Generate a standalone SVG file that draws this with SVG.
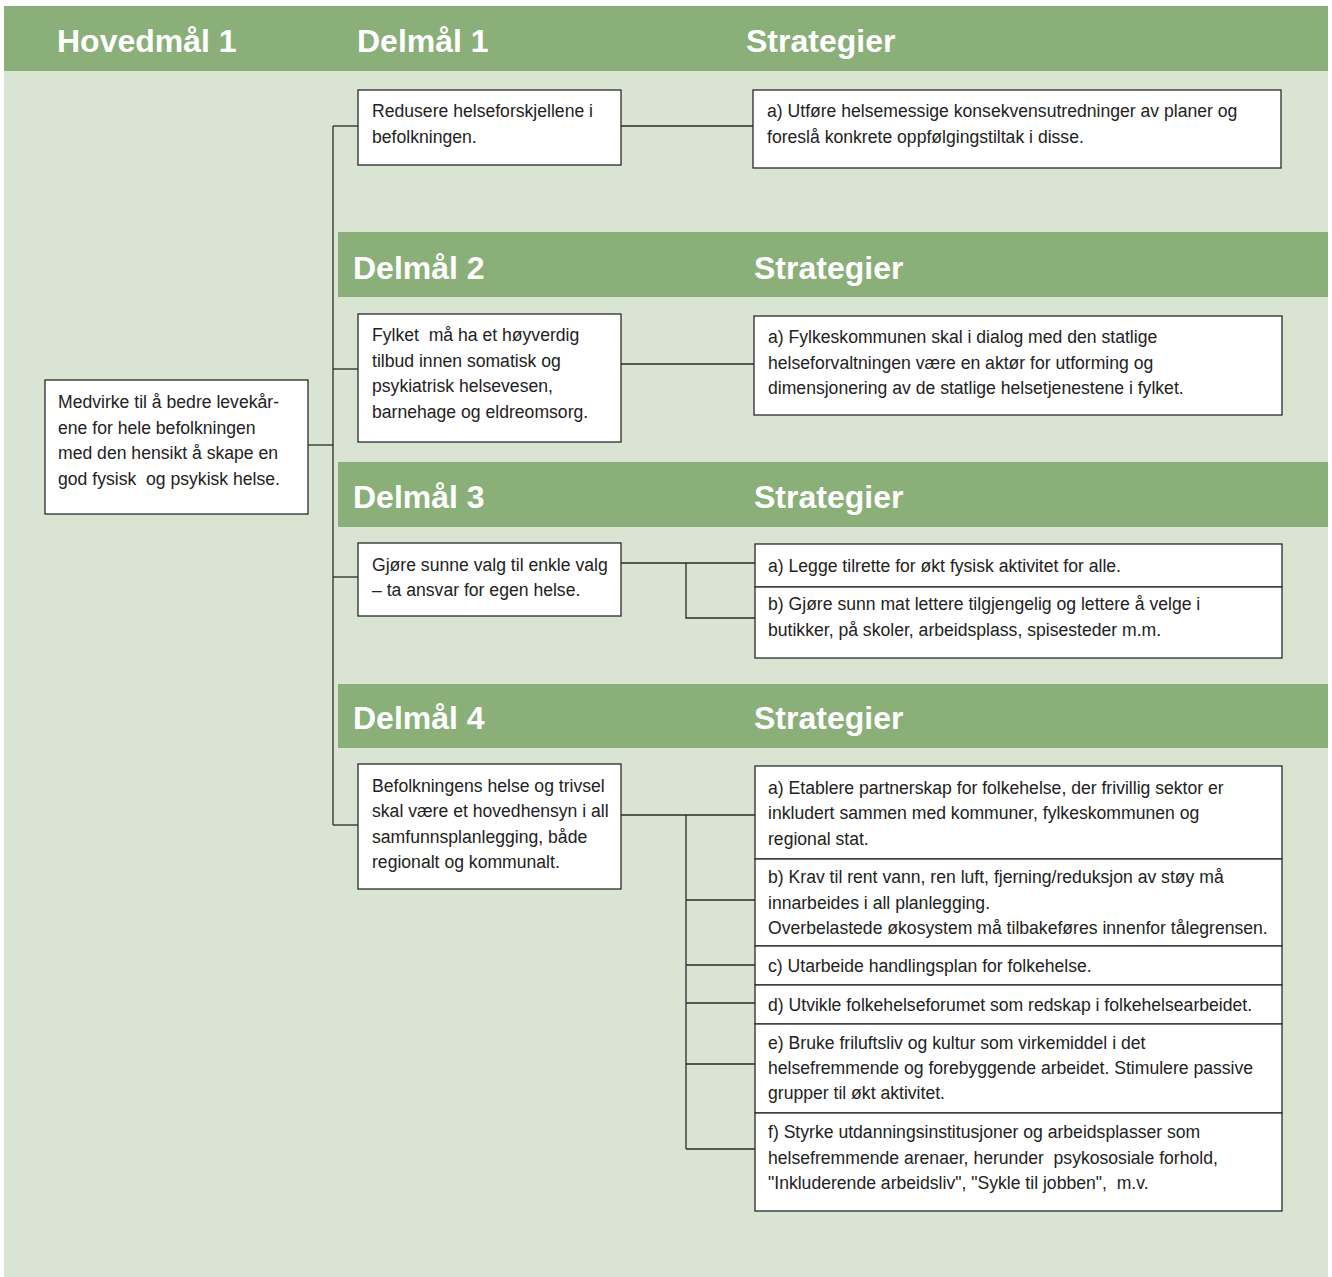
<svg xmlns="http://www.w3.org/2000/svg" width="1332" height="1277" viewBox="0 0 1332 1277" xml:space="preserve">
<style>
.bg{fill:#dae4d3}
.band{fill:#8aaf79}
.hd{font-family:"Liberation Sans",Arial,sans-serif;font-weight:bold;font-size:32px;fill:#ffffff}
.box{fill:#ffffff;stroke:#2a2a2a;stroke-width:1.3}
.t{font-family:"Liberation Sans",Arial,sans-serif;font-size:17.6px;fill:#222222;white-space:pre}
.c{fill:none;stroke:#2a2a2a;stroke-width:1.3}
</style>
<rect width="1332" height="1277" fill="#ffffff"/>
<rect class="bg" x="4" y="6" width="1324" height="1271"/>
<g id="headers">
<rect class="band" x="4" y="6" width="1324" height="65"/>
<text class="hd" x="57" y="52">Hovedmål 1</text>
<text class="hd" x="357" y="52">Delmål 1</text>
<text class="hd" x="746" y="52">Strategier</text>
<rect class="band" x="338" y="232" width="990" height="65"/>
<text class="hd" x="353" y="279">Delmål 2</text>
<text class="hd" x="754" y="279">Strategier</text>
<rect class="band" x="338" y="462" width="990" height="65"/>
<text class="hd" x="353" y="508">Delmål 3</text>
<text class="hd" x="754" y="508">Strategier</text>
<rect class="band" x="338" y="684" width="990" height="64"/>
<text class="hd" x="353" y="729">Delmål 4</text>
<text class="hd" x="754" y="729">Strategier</text>
</g>
<g id="connectors">
<path class="c" d="M333,126 V825"/>
<path class="c" d="M333,126 H358"/>
<path class="c" d="M308,445 H333"/>
<path class="c" d="M333,369 H358"/>
<path class="c" d="M333,577 H358"/>
<path class="c" d="M333,825 H358"/>
<path class="c" d="M621,126 H753"/>
<path class="c" d="M621,364 H754"/>
<path class="c" d="M621,563 H755 M686,563 V618 H755"/>
<path class="c" d="M621,815 H755 M686,815 V1149 M686,900 H755 M686,965 H755 M686,1003 H755 M686,1064 H755 M686,1149 H755"/>
</g>
<g id="hovedmaal">
<rect class="box" x="45" y="380" width="263" height="134"/>
<text class="t" x="58" y="408">Medvirke til å bedre levekår-</text>
<text class="t" x="58" y="434">ene for hele befolkningen</text>
<text class="t" x="58" y="459">med den hensikt å skape en</text>
<text class="t" x="58" y="485">god fysisk  og psykisk helse.</text>
</g>
<g id="delmaal1">
<rect class="box" x="358" y="90" width="263" height="75"/>
<text class="t" x="372" y="117">Redusere helseforskjellene i</text>
<text class="t" x="372" y="143">befolkningen.</text>
</g>
<g id="strategi1a">
<rect class="box" x="753" y="90" width="528" height="78"/>
<text class="t" x="767" y="117">a) Utføre helsemessige konsekvensutredninger av planer og</text>
<text class="t" x="767" y="143">foreslå konkrete oppfølgingstiltak i disse.</text>
</g>
<g id="delmaal2">
<rect class="box" x="358" y="314" width="263" height="128"/>
<text class="t" x="372" y="341">Fylket  må ha et høyverdig</text>
<text class="t" x="372" y="367">tilbud innen somatisk og</text>
<text class="t" x="372" y="392">psykiatrisk helsevesen,</text>
<text class="t" x="372" y="418">barnehage og eldreomsorg.</text>
</g>
<g id="strategi2a">
<rect class="box" x="754" y="316" width="528" height="99"/>
<text class="t" x="768" y="343">a) Fylkeskommunen skal i dialog med den statlige</text>
<text class="t" x="768" y="369">helseforvaltningen være en aktør for utforming og</text>
<text class="t" x="768" y="394">dimensjonering av de statlige helsetjenestene i fylket.</text>
</g>
<g id="delmaal3">
<rect class="box" x="358" y="543" width="263" height="73"/>
<text class="t" x="372" y="571">Gjøre sunne valg til enkle valg</text>
<text class="t" x="372" y="596">– ta ansvar for egen helse.</text>
</g>
<g id="strategi3a">
<rect class="box" x="755" y="544" width="527" height="43"/>
<text class="t" x="768" y="572">a) Legge tilrette for økt fysisk aktivitet for alle.</text>
</g>
<g id="strategi3b">
<rect class="box" x="755" y="587" width="527" height="71"/>
<text class="t" x="768" y="610">b) Gjøre sunn mat lettere tilgjengelig og lettere å velge i</text>
<text class="t" x="768" y="636">butikker, på skoler, arbeidsplass, spisesteder m.m.</text>
</g>
<g id="delmaal4">
<rect class="box" x="358" y="764" width="263" height="125"/>
<text class="t" x="372" y="792">Befolkningens helse og trivsel</text>
<text class="t" x="372" y="817">skal være et hovedhensyn i all</text>
<text class="t" x="372" y="843">samfunnsplanlegging, både</text>
<text class="t" x="372" y="868">regionalt og kommunalt.</text>
</g>
<g id="strategi4a">
<rect class="box" x="755" y="766" width="527" height="93"/>
<text class="t" x="768" y="794">a) Etablere partnerskap for folkehelse, der frivillig sektor er</text>
<text class="t" x="768" y="819">inkludert sammen med kommuner, fylkeskommunen og</text>
<text class="t" x="768" y="845">regional stat.</text>
</g>
<g id="strategi4b">
<rect class="box" x="755" y="859" width="527" height="87"/>
<text class="t" x="768" y="883">b) Krav til rent vann, ren luft, fjerning/reduksjon av støy må</text>
<text class="t" x="768" y="909">innarbeides i all planlegging.</text>
<text class="t" x="768" y="934">Overbelastede økosystem må tilbakeføres innenfor tålegrensen.</text>
</g>
<g id="strategi4c">
<rect class="box" x="755" y="946" width="527" height="39"/>
<text class="t" x="768" y="972">c) Utarbeide handlingsplan for folkehelse.</text>
</g>
<g id="strategi4d">
<rect class="box" x="755" y="985" width="527" height="39"/>
<text class="t" x="768" y="1011">d) Utvikle folkehelseforumet som redskap i folkehelsearbeidet.</text>
</g>
<g id="strategi4e">
<rect class="box" x="755" y="1024" width="527" height="89"/>
<text class="t" x="768" y="1049">e) Bruke friluftsliv og kultur som virkemiddel i det</text>
<text class="t" x="768" y="1074">helsefremmende og forebyggende arbeidet. Stimulere passive</text>
<text class="t" x="768" y="1099">grupper til økt aktivitet.</text>
</g>
<g id="strategi4f">
<rect class="box" x="755" y="1113" width="527" height="98"/>
<text class="t" x="768" y="1138">f) Styrke utdanningsinstitusjoner og arbeidsplasser som</text>
<text class="t" x="768" y="1164">helsefremmende arenaer, herunder  psykososiale forhold,</text>
<text class="t" x="768" y="1189">"Inkluderende arbeidsliv", "Sykle til jobben",  m.v.</text>
</g>
</svg>
